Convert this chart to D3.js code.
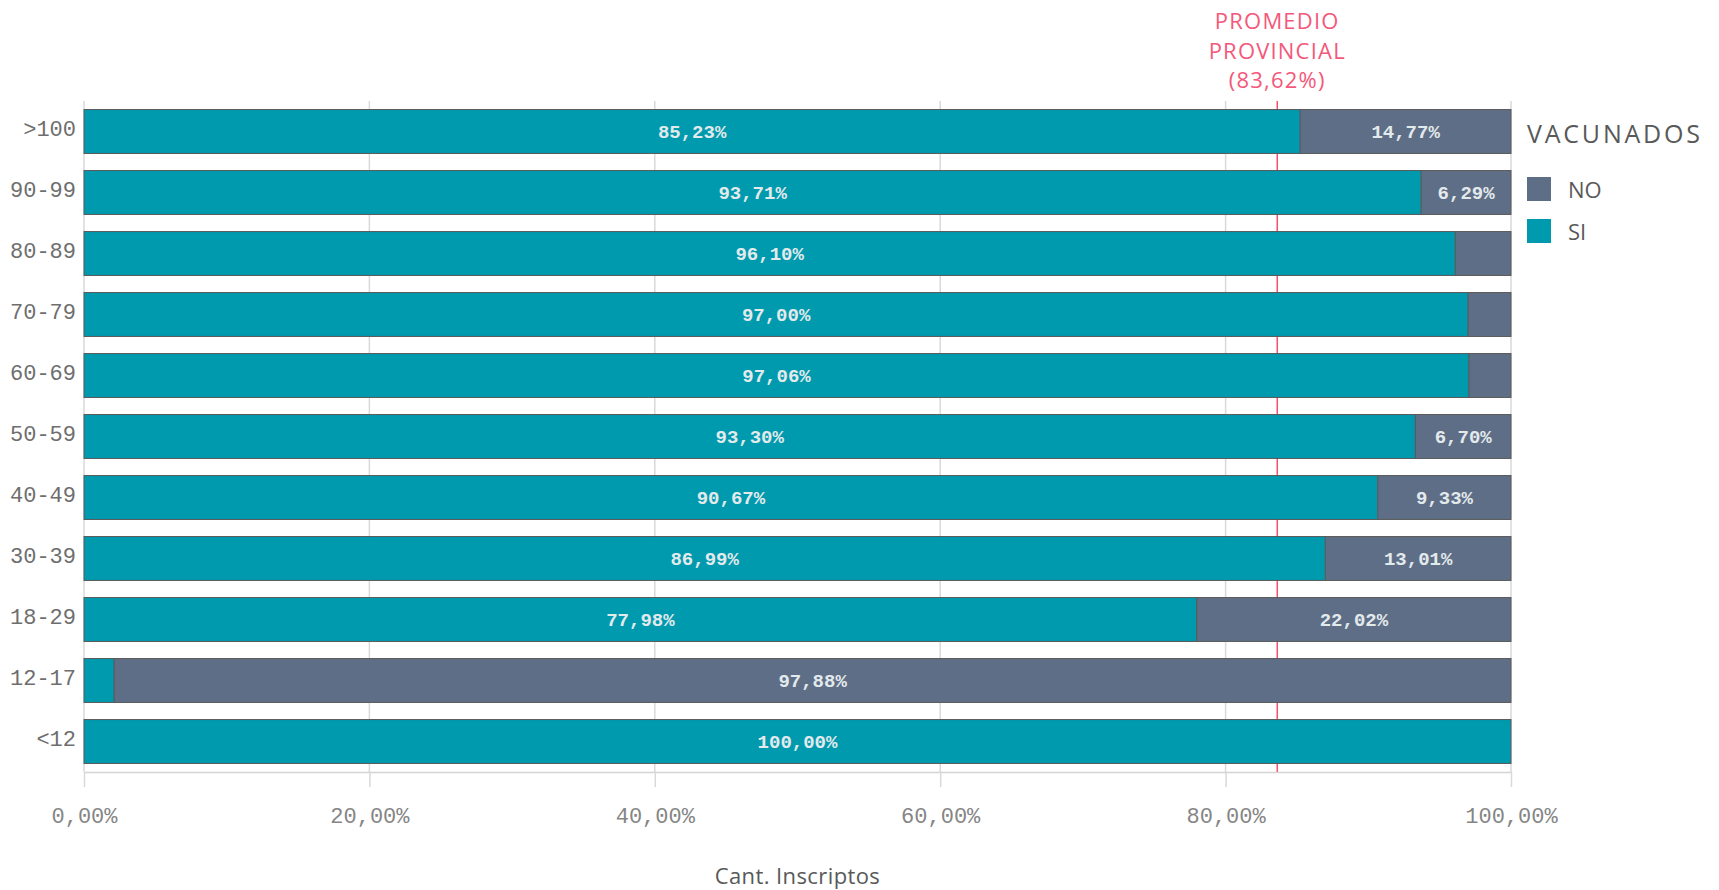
<!DOCTYPE html>
<html>
<head>
<meta charset="utf-8">
<script src="https://cdn.jsdelivr.net/npm/d3@7"></script>
<style>
  body { margin: 0; background: #fff; }
  svg { display: block; }
</style>
</head>
<body>
<div id="wrapper"></div>
<script>
// data
const categories = [">100", "90-99", "80-89", "70-79", "60-69", "50-59", "40-49", "30-39", "18-29", "12-17", "<12"];
const siValues = [85.23, 93.71, 96.10, 97.00, 97.06, 93.30, 90.67, 86.99, 77.98, 2.12, 100.00];
const noValues = [14.77, 6.29, 3.90, 3.00, 2.94, 6.70, 9.33, 13.01, 22.02, 97.88, 0];
const xTicks = [0, 20, 40, 60, 80, 100];
const seriesNames = ["NO", "SI"];
const promedio = 83.62;

function drawBars() {
  const width = 1719;
  const height = 890;
  let dimensions = {
    width: width,
    height: height,
    margin: { top: 101, right: 208, bottom: 118, left: 84 },
  };
  dimensions.boundedWidth = dimensions.width - dimensions.margin.left - dimensions.margin.right;
  dimensions.boundedHeight = dimensions.height - dimensions.margin.top - dimensions.margin.bottom;

  const colors = { SI: "#009aae", NO: "#5f6e87" };
  const monoFont = "'Liberation Mono', 'DejaVu Sans Mono', monospace";
  const sansFont = "'Open Sans', 'Noto Sans', sans-serif";

  const locale = d3.formatLocale({ decimal: ",", thousands: ".", grouping: [3], currency: ["$", ""] });
  const pct = locale.format(".2%");

  const rows = categories.map((c, i) => ({ cat: c, SI: siValues[i], NO: noValues[i] }));

  // draw canvas
  const wrapper = d3.select("#wrapper")
    .append("svg")
    .attr("width", dimensions.width)
    .attr("height", dimensions.height);
  const bounds = wrapper.append("g")
    .attr("transform", `translate(${dimensions.margin.left}, ${dimensions.margin.top})`);

  // scales
  const xScale = d3.scaleLinear()
    .domain([0, 100])
    .range([0, dimensions.boundedWidth]);
  const yScale = d3.scaleBand()
    .domain(categories)
    .range([0, dimensions.boundedHeight])
    .paddingInner(0.28)
    .paddingOuter(0.14);

  // gridlines
  bounds.append("g")
    .selectAll("line")
    .data(xTicks)
    .enter().append("line")
    .attr("x1", d => xScale(d))
    .attr("x2", d => xScale(d))
    .attr("y1", 0)
    .attr("y2", dimensions.boundedHeight)
    .attr("stroke", "#d9d9d9")
    .attr("stroke-width", 1.5);

  // promedio line (below bars)
  bounds.append("line")
    .attr("x1", xScale(promedio))
    .attr("x2", xScale(promedio))
    .attr("y1", 0)
    .attr("y2", dimensions.boundedHeight)
    .attr("stroke", "#f4506f")
    .attr("stroke-width", 1.5);

  const promLabel = bounds.append("text")
    .attr("x", xScale(promedio))
    .attr("fill", "#f4587a")
    .style("font-family", sansFont)
    .style("font-size", "22px")
    .style("letter-spacing", "1.2px")
    .style("text-anchor", "middle");
  ["PROMEDIO", "PROVINCIAL", `(${locale.format(".2f")(promedio)}%)`].forEach((t, i) => {
    promLabel.append("tspan")
      .attr("x", xScale(promedio))
      .attr("y", -72 + i * 29.5)
      .text(t);
  });

  // bars
  const stack = d3.stack().keys(["SI", "NO"]);
  const series = stack(rows);
  const barGroups = bounds.append("g")
    .selectAll("g")
    .data(series)
    .enter().append("g")
    .attr("fill", d => colors[d.key]);

  barGroups.selectAll("rect")
    .data(d => d.filter(p => p[1] - p[0] > 0))
    .enter().append("rect")
    .attr("x", d => xScale(d[0]))
    .attr("y", d => yScale(d.data.cat))
    .attr("width", d => xScale(d[1]) - xScale(d[0]))
    .attr("height", yScale.bandwidth())
    .attr("stroke", "#5a5a5a")
    .attr("stroke-width", 1);

  // labels
  barGroups.selectAll("text")
    .data(d => d.filter(p => xScale(p[1]) - xScale(p[0]) > 70))
    .enter().append("text")
    .attr("x", d => (xScale(d[0]) + xScale(d[1])) / 2)
    .attr("y", d => yScale(d.data.cat) + yScale.bandwidth() / 2)
    .attr("dy", "0.35em")
    .text(d => pct((d[1] - d[0]) / 100))
    .attr("fill", "#e3eaec")
    .style("font-family", monoFont)
    .style("font-size", "19px")
    .style("font-weight", "bold")
    .style("text-anchor", "middle");

  // x axis
  const xAxisGenerator = d3.axisBottom(xScale)
    .tickValues(xTicks)
    .tickSize(15)
    .tickSizeOuter(0)
    .tickPadding(20)
    .tickFormat(d => pct(d / 100));
  const xAxis = bounds.append("g")
    .attr("transform", `translate(0, ${dimensions.boundedHeight})`)
    .call(xAxisGenerator);
  xAxis.select(".domain").attr("stroke", "#d4d4d4").attr("stroke-width", 1.5);
  xAxis.selectAll(".tick line").attr("stroke", "#d9d9d9").attr("stroke-width", 1.5);
  xAxis.selectAll(".tick text")
    .attr("fill", "#858585")
    .style("font-family", monoFont)
    .style("font-size", "22px");

  bounds.append("text")
    .attr("x", dimensions.boundedWidth / 2)
    .attr("y", dimensions.boundedHeight + 112)
    .text("Cant. Inscriptos")
    .attr("fill", "#595959")
    .style("font-family", sansFont)
    .style("font-size", "22px")
    .style("letter-spacing", "0.4px")
    .style("text-anchor", "middle");

  // y axis
  const yAxisGenerator = d3.axisLeft(yScale)
    .tickSize(0)
    .tickPadding(8);
  const yAxis = bounds.append("g").call(yAxisGenerator);
  yAxis.select(".domain").remove();
  yAxis.selectAll(".tick text")
    .attr("fill", "#6e6e6e")
    .attr("dy", "0.2em")
    .style("font-family", monoFont)
    .style("font-size", "22px");

  // legend
  const legend = wrapper.append("g")
    .attr("transform", "translate(1527, 0)");
  legend.append("text")
    .attr("x", 0)
    .attr("y", 143)
    .text("VACUNADOS")
    .attr("fill", "#595959")
    .style("font-family", sansFont)
    .style("font-size", "25px")
    .style("letter-spacing", "2.8px");
  const items = legend.selectAll("g.item")
    .data(seriesNames)
    .enter().append("g")
    .attr("class", "item")
    .attr("transform", (d, i) => `translate(0, ${177 + i * 42})`);
  items.append("rect")
    .attr("width", 24)
    .attr("height", 24)
    .attr("fill", d => colors[d]);
  items.append("text")
    .attr("x", 41)
    .attr("y", 21)
    .text(d => d)
    .attr("fill", "#595959")
    .style("font-family", sansFont)
    .style("font-size", "22px");
}
drawBars();
</script>
</body>
</html>
